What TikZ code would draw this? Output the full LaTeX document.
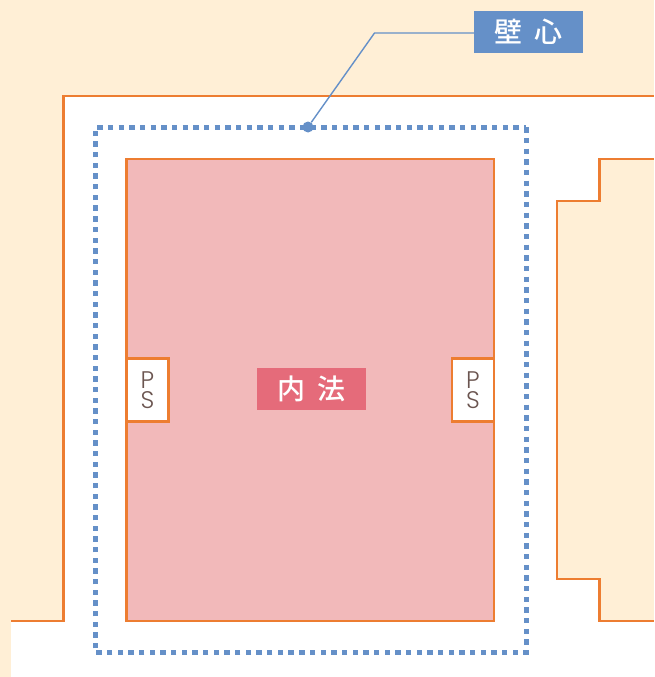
\documentclass[tikz,border=0pt]{standalone}
\usepackage{fontspec}
\setmainfont{Noto Sans CJK JP Medium}
\newfontfamily\psfont{Poppins Light}
\definecolor{cream}{RGB}{255,239,214}
\definecolor{wallorange}{RGB}{237,125,49}
\definecolor{roompink}{RGB}{242,185,186}
\definecolor{wallblue}{RGB}{101,144,200}
\definecolor{insidered}{RGB}{229,107,122}
\definecolor{psbrown}{RGB}{107,85,80}
\usetikzlibrary{positioning}

\tikzset{
	tag/.style={rectangle,minimum width=109pt,minimum height=42pt,inner sep=0pt,
		text=white,font=\fontsize{28}{28}\selectfont},
	shaft/.style={rectangle,draw=wallorange,fill=white,line width=2.7pt,
		minimum width=42pt,minimum height=63pt,inner sep=0pt,align=center,
		text=psbrown,font=\psfont\fontsize{24}{19.5}\selectfont},
	outline/.style={draw=wallorange,line width=2.7pt},
	centerline/.style={draw=wallblue,line width=5pt,dash pattern=on 5.34pt off 5.33pt},
}

\begin{document}
\begin{tikzpicture}[x=1pt,y=-1pt]
	\useasboundingbox (0,0) rectangle (654,677);
	\fill[cream] (0,0) rectangle (654,677);
	% white corridor
	\fill[white] (11,677) -- (11,621) -- (63.5,621) -- (63.5,96) -- (654,96) -- (654,159)
		-- (599.7,159) -- (599.7,201) -- (557,201) -- (557,579) -- (599.7,579) -- (599.7,621)
		-- (654,621) -- (654,677) -- cycle;
	\path[outline] (11,621) -- (63.5,621) -- (63.5,96) -- (654,96);
	\path[outline] (654,159) -- (599.7,159) -- (599.7,201) -- (557,201) -- (557,579)
		-- (599.7,579) -- (599.7,621) -- (654,621);
	% room
	\path[outline,fill=roompink] (126.5,159) rectangle (494,621);
	\node[shaft,text depth=0pt](PSL) at (147.5,390){P\\S};
	\node[shaft,text depth=0pt](PSR) at (473,390){P\\S};
	% wall centre
	\path[centerline] (526,127.3) -- (526,652.7) -- (95.5,652.7) -- (95.5,127.3) -- (526,127.3);
	\node[tag,fill=insidered](N) at (311.5,389){内\hspace{13pt}法};
	\node[tag,fill=wallblue](W) at (528.5,32){壁\hspace{12pt}心};
	\node[circle,fill=wallblue,inner sep=0pt,minimum size=11pt](D) at (308,127){};
	\coordinate (K) at (374.5,33);
	\path[draw=wallblue,line width=1.4pt] (D) -- (K) -- (W.west |- K);
\end{tikzpicture}
\end{document}
